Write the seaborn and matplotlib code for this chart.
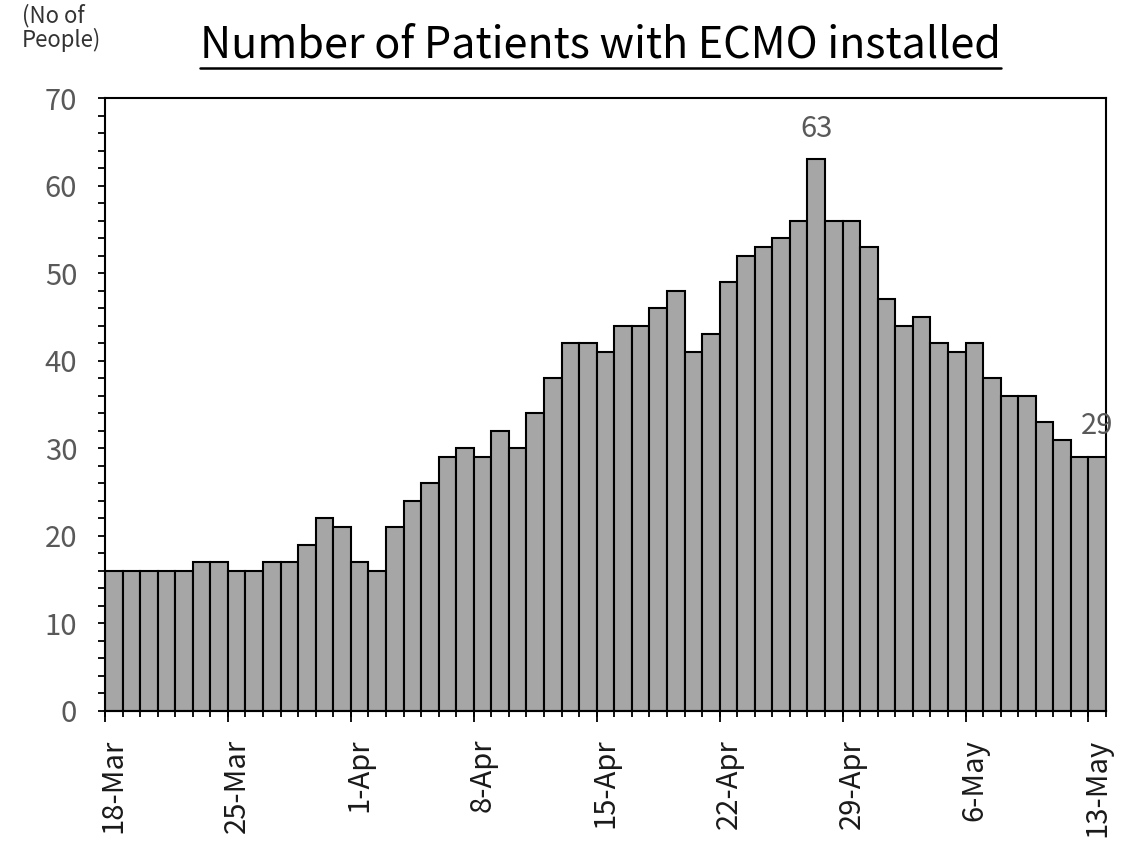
import matplotlib
matplotlib.use("Agg")
import matplotlib.pyplot as plt
import seaborn as sns
import numpy as np
import pandas as pd
from matplotlib.lines import Line2D

# ---- data ----
dates = (["%d-Mar" % d for d in range(18, 32)]
         + ["%d-Apr" % d for d in range(1, 31)]
         + ["%d-May" % d for d in range(1, 14)])
patients = [16, 16, 16, 16, 16, 17, 17, 16, 16, 17, 17, 19, 22, 21,
            17, 16, 21, 24, 26, 29, 30, 29, 32, 30, 34, 38, 42, 42, 41, 44,
            44, 46, 48, 41, 43, 49, 52, 53, 54, 56, 63, 56, 56, 53,
            47, 44, 45, 42, 41, 42, 38, 36, 36, 33, 31, 29, 29]
label_dates = ["18-Mar", "25-Mar", "1-Apr", "8-Apr", "15-Apr",
               "22-Apr", "29-Apr", "6-May", "13-May"]
annotated = {"27-Apr": "63", "13-May": "29"}
title = "Number of Patients with ECMO installed"
ylabel = "(No of\nPeople)"

df = pd.DataFrame({"date": dates, "patients": patients})

sns.set_style("white")
plt.rcParams["font.family"] = ["Noto Sans CJK JP", "DejaVu Sans"]

fig = plt.figure(figsize=(11.35, 8.48), dpi=100)
ax = fig.add_axes([105 / 1135, 1 - 711 / 848, (1106 - 105) / 1135, (711 - 98) / 848])

sns.barplot(data=df, x="date", y="patients", order=dates, color="#a6a6a6",
            saturation=1, edgecolor="black", linewidth=1.5, width=1.0, ax=ax)

n = len(dates)
ax.set_xlim(-0.5, n - 0.5)
ax.set_ylim(0, 70)
ax.set_xlabel("")
ax.set_ylabel("")

for s in ax.spines.values():
    s.set_visible(True)
    s.set_color("black")
    s.set_linewidth(1.5)

# y ticks
ax.set_yticks(np.arange(0, 71, 10))
ax.set_yticks(np.arange(0, 71, 2), minor=True)
ax.tick_params(axis="y", which="both", direction="out", length=5, width=1.3,
               color="black", left=True, labelsize=21, labelcolor="#595959", pad=15)

# x ticks: labels at bar centres, short ticks at boundaries
pos = {d: i for i, d in enumerate(dates)}
ax.set_xticks([pos[d] for d in label_dates])
ax.set_xticklabels(label_dates, rotation=90, fontsize=21, color="#1a1a1a")
ax.tick_params(axis="x", which="major", length=0, pad=20)
ax.set_xticks(np.arange(-0.5, n, 1.0), minor=True)
ax.tick_params(axis="x", which="minor", direction="out", length=4, width=1.3,
               color="black", bottom=True)

sec = ax.secondary_xaxis("bottom")
sec.set_xticks([pos[d] - 0.5 for d in label_dates])
sec.set_xticklabels([""] * len(label_dates))
sec.tick_params(axis="x", length=8, width=1.3, color="black", direction="out")
sec.spines["bottom"].set_linewidth(1.5)

# value annotations
for d, txt in annotated.items():
    ax.annotate(txt, xy=(pos[d], patients[pos[d]]), xytext=(0, 22),
                textcoords="offset points", ha="center", va="center",
                fontsize=21, color="#595959")

# title with underline
t = fig.text(600 / 1135, 1 - 45 / 848, title, ha="center", va="center",
             fontsize=31, color="black")
fig.text(22 / 1135, 1 - 4 / 848, ylabel, ha="left", va="top", fontsize=16,
         color="#333333", linespacing=1.0)

fig.canvas.draw()
bb = t.get_window_extent(renderer=fig.canvas.get_renderer())
W, H = fig.get_size_inches() * fig.dpi
uy = 1 - 68 / 848
fig.add_artist(Line2D([bb.x0 / W, bb.x1 / W], [uy, uy], color="black",
                      linewidth=1.8, transform=fig.transFigure))

fig.savefig("out.png", dpi=100)
